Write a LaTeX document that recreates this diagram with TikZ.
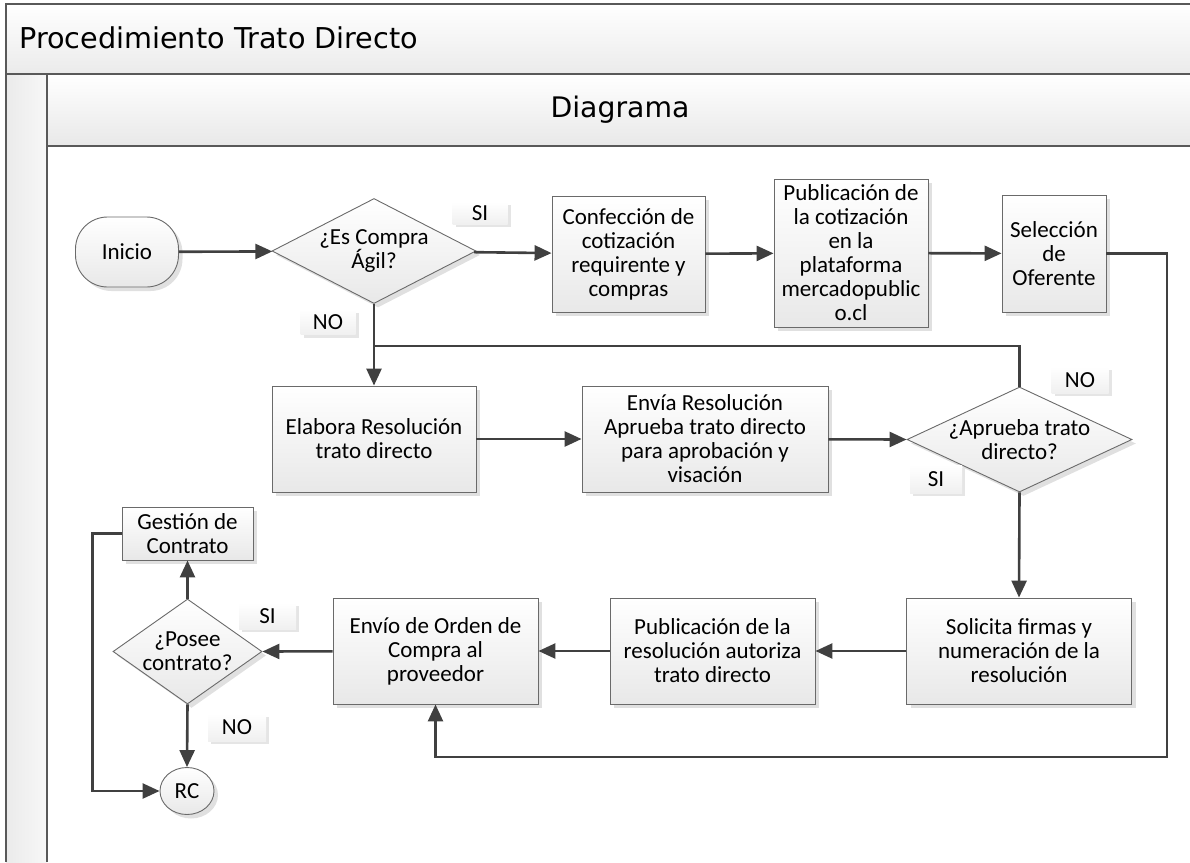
\documentclass[tikz,border=0pt]{standalone}
\usepackage{fontspec}
\setmainfont{Carlito}
\newfontfamily\headfont{DejaVu Sans}
\usetikzlibrary{arrows.meta,shapes.geometric,shadows,calc}

\definecolor{lanegray}{HTML}{595959}
\definecolor{linkgray}{HTML}{404040}
\definecolor{boxline}{HTML}{6A6A6A}

\tikzset{
  proc/.style={rectangle, draw=boxline, line width=0.9pt,
    top color=white, bottom color=black!9,
    drop shadow={shadow xshift=4pt, shadow yshift=-4pt, fill=black!12, opacity=1},
    align=center, inner sep=2pt},
  decision/.style={diamond, draw=boxline, line width=0.9pt,
    top color=white, bottom color=black!9, inner sep=0pt,
    drop shadow={shadow xshift=4pt, shadow yshift=-4pt, fill=black!12, opacity=1}},
  terminal/.style={proc, rounded corners=32pt},
  ovalend/.style={ellipse, draw=boxline, line width=0.9pt,
    top color=white, bottom color=black!9, inner sep=0pt,
    drop shadow={shadow xshift=4pt, shadow yshift=-4pt, fill=black!12, opacity=1}},
  tag/.style={rectangle, inner sep=0pt, top color=white, bottom color=black!6,
    drop shadow={shadow xshift=3pt, shadow yshift=-3pt, fill=black!10, opacity=1}},
  link/.style={draw=linkgray, line width=2.6pt},
  arr/.style={link, -{Triangle[length=17pt,width=15pt]}},
  laneline/.style={draw=lanegray, line width=2pt}
}

\begin{document}
\begin{tikzpicture}[x=1pt, y=-1pt, font=\fontsize{23}{24}\selectfont]
\useasboundingbox (0,0) rectangle (1190,862);

% swimlane frame
\shade[top color=white, bottom color=black!8] (6,4) rectangle (1190,74);
\shade[top color=white, bottom color=black!9] (47,74) rectangle (1190,146);
\shade[left color=black!8, right color=black!3] (6,74) rectangle (47,862);
\draw[laneline] (1190,4) -- (6,4) -- (6,862);
\draw[laneline] (6,74) -- (1190,74);
\draw[laneline] (47,74) -- (47,862);
\draw[laneline] (47,146) -- (1190,146);
\node[anchor=base west, font=\headfont\fontsize{28.7}{30}\selectfont, inner sep=0pt]
  (title) at (19,48) {Procedimiento Trato Directo};
\node[font=\headfont\fontsize{28.3}{30}\selectfont, inner sep=0pt]
  (lane) at (620,110) {Diagrama};

% steps
\node[terminal, minimum width=103pt, minimum height=70pt] (inicio) at (127,252) {Inicio};
\node[decision, minimum width=204pt, minimum height=105pt,
  label={[align=center]center:¿Es Compra\\Ágil?}] (agil) at (374,251) {};
\node[proc, minimum width=153pt, minimum height=116pt] (conf) at (628.5,254)
  {Confección de\\cotización\\requirente y\\compras};
\node[proc, minimum width=154pt, minimum height=148pt] (pubc) at (851,253)
  {Publicación de\\la cotización\\en la\\plataforma\\mercadopublic\\o.cl};
\node[proc, minimum width=104pt, minimum height=117pt] (sel) at (1054,253.5)
  {Selección\\de\\Oferente};

\node[proc, minimum width=204pt, minimum height=106pt] (elab) at (374,439)
  {Elabora Resolución\\trato directo};
\node[proc, minimum width=246pt, minimum height=106pt] (envia) at (705,439)
  {Envía Resolución\\Aprueba trato directo\\para aprobación y\\visación};
\node[decision, minimum width=225pt, minimum height=105pt,
  label={[align=center]center:¿Aprueba trato\\directo?}] (aprueba) at (1019.5,439.5) {};

\node[proc, minimum width=225pt, minimum height=106pt] (solic) at (1019,651)
  {Solicita firmas y\\numeración de la\\resolución};
\node[proc, minimum width=205pt, minimum height=106pt] (pubr) at (712.5,651)
  {Publicación de la\\resolución autoriza\\trato directo};
\node[proc, minimum width=205pt, minimum height=106pt] (envio) at (435.5,651)
  {Envío de Orden de\\Compra al\\proveedor};
\node[decision, minimum width=149pt, minimum height=105pt,
  label={[align=center]center:¿Posee\\contrato?}] (posee) at (187.5,651.5) {};
\node[proc, minimum width=131pt, minimum height=53pt] (gest) at (187.5,533.5)
  {Gestión de\\Contrato};
\node[ovalend, minimum width=54pt, minimum height=47pt] (rc) at (187,791) {RC};

% branch tags
\node[tag, minimum width=55pt, minimum height=22pt] (si1) at (480,213) {SI};
\node[tag, minimum width=55pt, minimum height=25pt] (no1) at (328,322) {NO};
\node[tag, minimum width=57pt, minimum height=26pt] (no2) at (1080,380) {NO};
\node[tag, minimum width=52pt, minimum height=28pt] (si2) at (936,479) {SI};
\node[tag, minimum width=57pt, minimum height=26pt] (si3) at (267.5,616) {SI};
\node[tag, minimum width=58pt, minimum height=27pt] (no3) at (237,727.5) {NO};

% connectors
\coordinate (join) at (374,346);
\coordinate (loopcorner) at (1167,757);
\draw[arr] (inicio) -- (agil);
\draw[arr] (agil) -- (conf);
\draw[arr] (conf) -- (pubc);
\draw[arr] (pubc) -- (sel);
\draw[arr] (agil.south) -- (elab.north);
\draw[link] (aprueba.north) |- (join);
\draw[arr] (elab) -- (envia);
\draw[arr] (envia) -- (aprueba.west);
\draw[arr] (aprueba.south) -- (solic.north);
\draw[arr] (solic) -- (pubr);
\draw[arr] (pubr) -- (envio);
\draw[arr] (envio) -- (posee.east);
\draw[arr] (posee.north) -- (gest.south);
\draw[arr] (posee.south) -- (rc.north);
\draw[arr] (gest.west) -- ++(-29,0) |- (rc.west);
\draw[arr] (sel.east) -| (loopcorner) -| (envio.south);
\end{tikzpicture}
\end{document}
